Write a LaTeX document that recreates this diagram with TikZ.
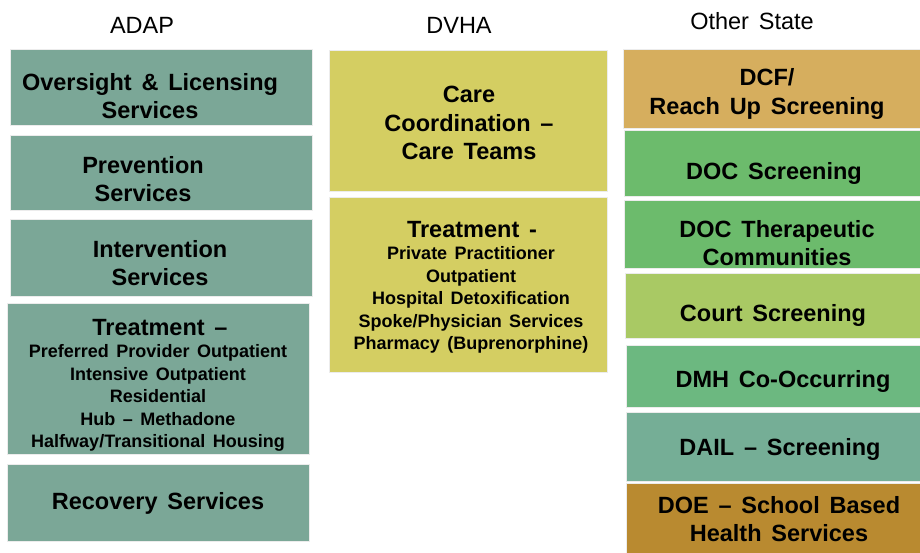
\documentclass[tikz,border=0pt]{standalone}
\usepackage{fontspec}
\setmainfont{Liberation Sans}[WordSpace=1.5]
\definecolor{adap}{HTML}{7BA797}
\definecolor{dvha}{HTML}{D4CE62}
\definecolor{dcf}{HTML}{D6AE5E}
\definecolor{docg}{HTML}{6CBB6C}
\definecolor{court}{HTML}{A9C964}
\definecolor{dmh}{HTML}{6CB880}
\definecolor{dail}{HTML}{75AE96}
\definecolor{doe}{HTML}{B98A30}
\tikzset{
  hdr/.style={font=\fontsize{23.5}{28}\selectfont, inner sep=0pt},
  big/.style={font=\fontsize{23.5}{28.5}\selectfont\bfseries, align=center, inner sep=0pt},
  small/.style={font=\fontsize{18}{22.4}\selectfont\bfseries, align=center, inner sep=0pt},
  boxfill/.style={draw=white!85!gray, line width=0.6pt}
}
\begin{document}
\begin{tikzpicture}[x=1pt,y=-1pt]
\useasboundingbox (0,0) rectangle (920,552);
\fill[white] (0,0) rectangle (920,552);
% headers
\node[hdr] (hA) at (142,25) {ADAP};
\node[hdr] (hD) at (459,25) {DVHA};
\node[hdr] (hO) at (752,21) {Other State};
% ADAP boxes
\path[boxfill, fill=adap] (10,49) rectangle (312,125);
\path[boxfill, fill=adap] (10,135) rectangle (312,210);
\path[boxfill, fill=adap] (10,219) rectangle (312,296);
\path[boxfill, fill=adap] (7,303) rectangle (309,454);
\path[boxfill, fill=adap] (7,464) rectangle (309,541);
\node[big] (a1) at (150,96) {Oversight \& Licensing\\Services};
\node[big] (a2) at (143,179) {Prevention\\Services};
\node[big] (a3) at (160,263) {Intervention\\Services};
\node[big] (a4) at (160,328) {Treatment --};
\node[small] (a4b) at (158,398) {Preferred Provider Outpatient\\Intensive Outpatient\\Residential\\Hub -- Methadone\\Halfway/Transitional Housing};
\node[big] (a5) at (158,503) {Recovery Services};
% DVHA boxes
\path[boxfill, fill=dvha] (329,50) rectangle (607,191);
\path[boxfill, fill=dvha] (329,197) rectangle (607,372);
\node[big] (d1) at (469,123) {Care\\Coordination --\\Care Teams};
\node[big] (d2) at (472,230) {Treatment -};
\node[small] (d2b) at (471,300) {Private Practitioner\\Outpatient\\Hospital Detoxification\\Spoke/Physician Services\\Pharmacy (Buprenorphine)};
% Other State boxes
\path[boxfill, fill=dcf] (623,49) rectangle (921,128);
\path[boxfill, fill=docg] (624,130) rectangle (921,196);
\path[boxfill, fill=docg] (624,200) rectangle (921,268);
\path[boxfill, fill=court] (625,273) rectangle (921,338);
\path[boxfill, fill=dmh] (626,345) rectangle (921,407);
\path[boxfill, fill=dail] (626,412) rectangle (921,481);
\path[boxfill, fill=doe] (626,483) rectangle (921,553);
\node[big] (o1) at (767,94) {DCF/\\Reach Up Screening};
\node[big] (o2) at (774,173) {DOC Screening};
\node[big] (o3) at (777,243) {DOC Therapeutic\\Communities};
\node[big] (o4) at (773,315) {Court Screening};
\node[big] (o5) at (783,381) {DMH Co-Occurring};
\node[big] (o6) at (780,449) {DAIL -- Screening};
\node[big] (o7) at (779,519) {DOE -- School Based\\Health Services};
\end{tikzpicture}
\end{document}
